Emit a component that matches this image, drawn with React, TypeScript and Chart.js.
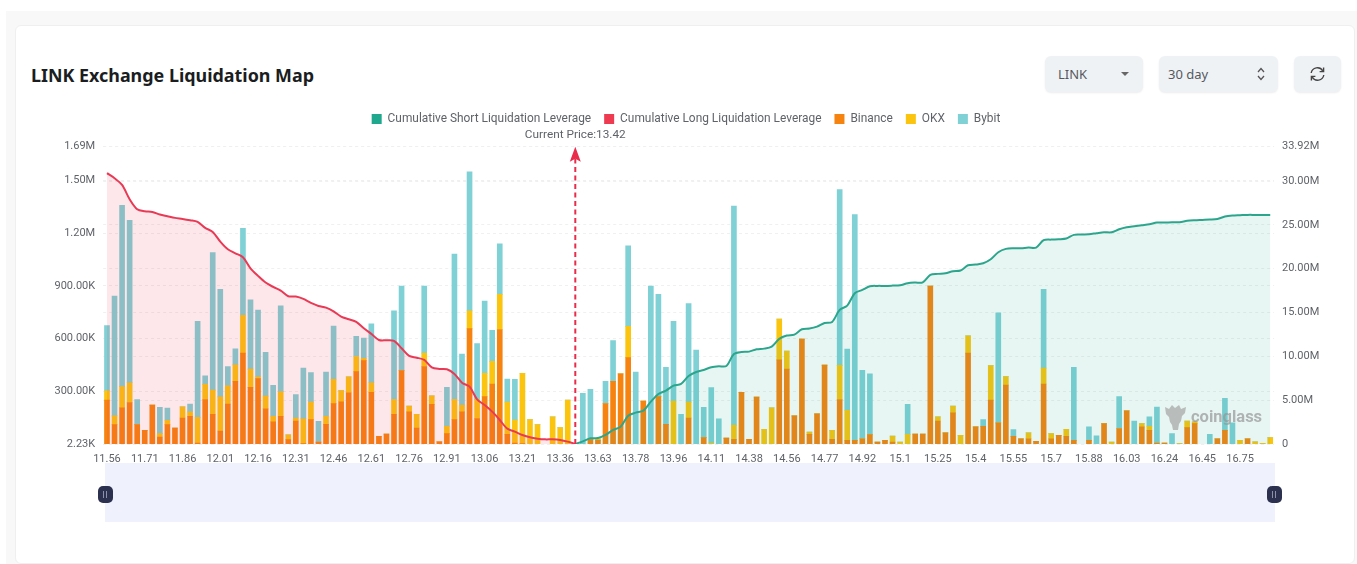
import React, { useEffect, useRef } from "react";
import { Chart, registerables } from "chart.js";

Chart.register(...registerables);

const prices = [
  "11.56","11.59","11.62","11.65","11.68","11.71","11.74","11.77","11.8","11.83",
  "11.86","11.89","11.92","11.95","11.98","12.01","12.04","12.07","12.1","12.13",
  "12.16","12.19","12.22","12.25","12.28","12.31","12.34","12.37","12.4","12.43",
  "12.46","12.49","12.52","12.55","12.58","12.61","12.64","12.67","12.7","12.73",
  "12.76","12.79","12.82","12.85","12.88","12.91","12.94","12.97","13","13.03",
  "13.06","13.09","13.12","13.15","13.18","13.21","13.24","13.27","13.3","13.33",
  "13.36","13.39","13.42","13.45","13.6","13.63","13.66","13.69","13.72","13.75",
  "13.78","13.82","13.85","13.89","13.92","13.96","13.99","14.02","14.05","14.08",
  "14.11","14.16","14.22","14.27","14.33","14.38","14.42","14.45","14.49","14.52",
  "14.56","14.6","14.64","14.69","14.73","14.77","14.8","14.83","14.86","14.89",
  "14.92","14.96","14.99","15.03","15.06","15.1","15.13","15.16","15.19","15.22",
  "15.25","15.28","15.31","15.34","15.37","15.4","15.43","15.46","15.49","15.52",
  "15.55","15.58","15.61","15.64","15.67","15.7","15.74","15.77","15.81","15.84",
  "15.88","15.91","15.94","15.97","16","16.03","16.07","16.11","16.16","16.2",
  "16.24","16.28","16.32","16.37","16.41","16.45","16.51","16.57","16.63","16.69",
  "16.75","16.78","16.81","16.84","16.87",
];

// thousands
const binanceK = [
  251,112,208,238,112,80,223,42,112,93,150,160,8,255,171,76,229,358,518,324,
  373,202,128,160,27,133,4,141,13,114,231,242,293,413,476,295,46,59,171,419,
  185,93,442,227,15,61,141,185,657,147,271,343,652,57,8,4,0,0,0,0,
  0,0,0,0,27,23,232,358,400,493,0,246,0,271,114,0,0,150,0,38,
  0,0,36,29,295,29,269,0,0,480,427,162,598,57,173,450,29,255,23,23,
  32,55,13,23,13,0,0,59,59,899,133,65,179,0,518,99,103,251,122,337,
  46,32,32,17,343,32,51,46,23,0,23,0,118,0,90,191,0,99,80,8,
  8,0,0,95,118,0,0,32,80,0,0,32,0,0,0,
];
const okxK = [
  53,50,120,112,0,0,0,19,25,0,63,25,145,86,137,194,103,93,215,103,
  11,72,32,139,27,17,141,99,0,46,139,63,90,86,13,55,0,0,84,0,
  32,78,76,48,0,42,114,38,101,109,133,128,200,183,130,400,141,112,0,156,
  95,251,0,0,0,8,0,0,0,177,0,0,0,0,0,246,0,90,0,0,
  8,0,0,80,0,0,0,86,208,232,103,0,0,13,0,0,51,194,171,0,
  0,0,0,0,34,13,57,0,0,0,23,0,38,51,99,0,0,196,0,48,
  0,0,34,0,90,29,0,40,0,0,0,0,0,13,0,0,0,19,23,0,
  0,0,4,38,10,0,0,0,0,0,23,0,15,6,38,
];
const bybitK = [
  370,680,1029,922,143,0,0,150,69,0,0,44,545,48,781,610,110,91,493,394,
  379,248,175,488,0,133,288,168,118,251,301,0,0,114,114,335,0,0,503,480,
  0,0,381,0,0,221,825,290,789,316,410,177,286,131,232,0,0,0,0,0,
  0,0,0,290,286,0,126,231,0,457,411,0,899,581,324,453,171,560,535,173,
  314,145,0,1244,0,0,0,0,0,0,0,0,0,0,0,0,0,998,347,1282,
  389,345,0,0,0,0,170,0,0,0,0,0,0,0,0,0,38,0,625,0,
  38,0,0,0,448,0,0,0,415,0,76,48,0,0,181,0,133,0,53,204,
  0,61,0,0,0,0,57,0,181,122,0,0,0,0,0,
];
// millions; null where the series does not exist
const longM = [
  30.9,30.33,29.56,27.93,26.79,26.56,26.48,26.18,25.99,25.8,25.68,25.53,25.34,24.66,24.2,23.1,22.22,21.76,21.31,20.05,
  19.18,18.42,17.92,17.5,16.86,16.82,16.55,16.1,15.75,15.56,15.14,14.54,14.23,13.93,13.2,12.56,11.87,11.83,11.76,10.92,
  10.05,9.85,9.59,8.75,8.56,8.52,7.99,7,6.54,5.1,4.45,3.69,2.74,1.75,1.41,1.03,0.76,0.61,0.53,0.53,
  0.46,0.27,0,
];
const shortM = [
  0,0.3,0.65,0.68,1.03,1.6,1.98,3.23,3.58,3.81,4.83,5.71,6.09,6.66,6.85,7.76,8.22,8.45,8.75,8.87,
  8.9,10.27,10.5,10.54,10.81,10.88,11.11,11.99,12.37,12.48,13.09,13.17,13.39,13.81,13.93,15.3,15.79,17.2,17.58,18,
  18.04,18.04,18.07,18.11,18.34,18.42,18.45,19.29,19.41,19.48,19.71,19.79,20.39,20.47,20.62,21.08,21.88,22.26,22.34,22.34,
  22.41,22.41,23.25,23.32,23.36,23.44,23.86,23.9,23.93,24.05,24.16,24.16,24.5,24.73,24.85,24.96,25.07,25.27,25.27,25.3,
  25.3,25.46,25.53,25.57,25.61,25.68,25.95,26.06,26.1,26.14,26.14,26.14,26.14,
];

const leftTicks = [2230, 300000, 600000, 900000, 1200000, 1500000, 1690000];
const leftLabels = ["2.23K", "300.00K", "600.00K", "900.00K", "1.20M", "1.50M", "1.69M"];
const rightTicks = [0, 5000000, 10000000, 15000000, 20000000, 25000000, 30000000, 33920000];
const rightLabels = ["0", "5.00M", "10.00M", "15.00M", "20.00M", "25.00M", "30.00M", "33.92M"];
const currentPrice = "13.42";

const seriesNames = [
  "Cumulative Short Liquidation Leverage",
  "Cumulative Long Liquidation Leverage",
  "Binance",
  "OKX",
  "Bybit",
];
const seriesColors = ["#1fa88d", "#ef3b52", "#f6830f", "#fbc40e", "#7fd1d6"];

const FONT = "Roboto, 'Noto Sans', sans-serif";
const TICK = "#5f6368";

const toUnits = (a: number[], f: number) => a.map((v) => v * f);

const currentPricePlugin = {
  id: "currentPrice",
  beforeLayout(chart: any) {
    const l = chart.legend;
    if (l && !l.__patched) {
      const fit = l.fit;
      l.fit = function () {
        fit.call(this);
        this.height = 46.7;
      };
      l.__patched = true;
    }
  },
  afterDatasetsDraw(chart: any) {
    const { ctx, chartArea, scales } = chart;
    const x = scales.x.getPixelForValue(prices.indexOf(currentPrice));
    const top = chartArea.top;
    const bottom = chartArea.bottom;
    ctx.save();
    ctx.strokeStyle = "#ea2c4b";
    ctx.fillStyle = "#ea2c4b";
    ctx.lineWidth = 2;
    ctx.setLineDash([5, 3.5]);
    ctx.beginPath();
    ctx.moveTo(x, bottom);
    ctx.lineTo(x, top + 12);
    ctx.stroke();
    ctx.setLineDash([]);
    ctx.beginPath();
    ctx.moveTo(x, top);
    ctx.lineTo(x + 5.5, top + 15);
    ctx.lineTo(x, top + 12);
    ctx.lineTo(x - 5.5, top + 15);
    ctx.closePath();
    ctx.fill();
    ctx.fillStyle = TICK;
    ctx.font = `11.8px ${FONT}`;
    ctx.textAlign = "center";
    ctx.textBaseline = "middle";
    ctx.fillText(`Current Price:${currentPrice}`, x, 135);
    ctx.restore();
  },
};

const box: React.CSSProperties = {
  position: "absolute",
  top: 56,
  height: 36,
  background: "#eff2f5",
  borderRadius: 6,
  boxShadow: "0 1px 2px rgba(0,0,0,.08)",
  color: "#55595f",
  fontFamily: "'Noto Sans', sans-serif",
  fontSize: 13,
  lineHeight: "36px",
};

function Handle({ left }: { left: number }) {
  return (
    <div
      style={{
        position: "absolute",
        left,
        top: 486,
        width: 15,
        height: 17,
        borderRadius: 5,
        background: "#2c3150",
      }}
    >
      <div style={{ position: "absolute", left: 5, top: 5, width: 1, height: 7, background: "#8d91a6" }} />
      <div style={{ position: "absolute", left: 8, top: 5, width: 1, height: 7, background: "#8d91a6" }} />
    </div>
  );
}

export default function App() {
  const ref = useRef<HTMLCanvasElement>(null);
  useEffect(() => {
    const chart = new Chart(ref.current as HTMLCanvasElement, {
      type: "bar",
      plugins: [currentPricePlugin],
      data: {
        labels: prices,
        datasets: [
          {
            type: "line",
            label: seriesNames[0],
            data: [...Array(longM.length - 1).fill(null), ...toUnits(shortM, 1e6)],
            yAxisID: "yRight",
            borderColor: "#2ba68c",
            backgroundColor: "rgba(31,168,141,0.1)",
            borderWidth: 2,
            pointRadius: 0,
            tension: 0.3,
            fill: "origin",
            order: 1,
          },
          {
            type: "line",
            label: seriesNames[1],
            data: toUnits(longM, 1e6),
            yAxisID: "yRight",
            borderColor: "#e93a55",
            backgroundColor: "rgba(239,59,82,0.12)",
            borderWidth: 2,
            pointRadius: 0,
            tension: 0.3,
            fill: "origin",
            order: 1,
          },
          {
            label: seriesNames[2],
            data: toUnits(binanceK, 1e3),
            yAxisID: "y",
            backgroundColor: seriesColors[2],
            stack: "ex",
            barThickness: 5,
            order: 2,
          },
          {
            label: seriesNames[3],
            data: toUnits(okxK, 1e3),
            yAxisID: "y",
            backgroundColor: seriesColors[3],
            stack: "ex",
            barThickness: 5,
            order: 2,
          },
          {
            label: seriesNames[4],
            data: toUnits(bybitK, 1e3),
            yAxisID: "y",
            backgroundColor: seriesColors[4],
            stack: "ex",
            barThickness: 5,
            order: 2,
          },
        ],
      } as any,
      options: {
        responsive: false,
        animation: false,
        layout: { padding: { left: 15, right: 0, top: 100, bottom: 100 } },
        plugins: {
          tooltip: { enabled: false },
          legend: {
            position: "top",
            align: "center",
            labels: {
              boxWidth: 10,
              boxHeight: 10,
              padding: 13,
              color: TICK,
              font: { family: FONT, size: 11.9 },
              generateLabels: (c: any) =>
                c.data.datasets.map((d: any, i: number) => ({
                  text: d.label,
                  fillStyle: seriesColors[i],
                  strokeStyle: seriesColors[i],
                  lineWidth: 0,
                  datasetIndex: i,
                  fontColor: TICK,
                })),
            },
          },
        },
        scales: {
          x: {
            stacked: true,
            offset: true,
            grid: { display: false },
            border: { display: false },
            afterFit: (s: any) => {
              s.height = 20;
            },
            ticks: {
              autoSkip: false,
              maxRotation: 0,
              minRotation: 0,
              padding: 1,
              color: TICK,
              font: { family: FONT, size: 11 },
              callback: (_v: any, i: number) => (i % 5 === 0 ? prices[i] : ""),
            },
          },
          y: {
            type: "linear",
            position: "left",
            stacked: true,
            min: leftTicks[0],
            max: leftTicks[leftTicks.length - 1],
            border: { display: false, dash: [3, 3] },
            grid: { color: "#f0f0f0", drawTicks: false },
            afterFit: (s: any) => {
              s.width = 88.2;
            },
            afterBuildTicks: (s: any) => {
              s.ticks = leftTicks.map((value) => ({ value }));
            },
            ticks: {
              padding: 8,
              color: TICK,
              font: { family: FONT, size: 11 },
              callback: (v: any) => leftLabels[leftTicks.indexOf(v)],
            },
          },
          yRight: {
            type: "linear",
            position: "right",
            min: rightTicks[0],
            max: rightTicks[rightTicks.length - 1],
            border: { display: false, dash: [3, 3] },
            grid: { color: "#f0f0f0", drawTicks: false },
            afterFit: (s: any) => {
              s.width = 83;
            },
            afterBuildTicks: (s: any) => {
              s.ticks = rightTicks.map((value) => ({ value }));
            },
            ticks: {
              padding: 8,
              color: TICK,
              font: { family: FONT, size: 11 },
              callback: (v: any) => rightLabels[rightTicks.indexOf(v)],
            },
          },
        },
      } as any,
    });
    return () => chart.destroy();
  }, []);

  return (
    <div style={{ position: "absolute", left: 0, top: 0, width: 1357, height: 564, overflow: "hidden", background: "#fff" }}>
      <div style={{ position: "absolute", left: 6, top: 11, width: 1351, height: 553, background: "#f8f8f8" }} />
      <div
        style={{
          position: "absolute",
          left: 15,
          top: 25,
          width: 1340,
          height: 539,
          background: "#fff",
          borderRadius: 6,
          border: "1px solid #efefef",
          boxSizing: "border-box",
        }}
      />
      <div
        style={{
          position: "absolute",
          left: 31,
          top: 62,
          fontFamily: "'Noto Sans', sans-serif",
          fontWeight: 700,
          fontSize: 17.9,
          lineHeight: "26px",
          color: "#1a1d21",
          whiteSpace: "nowrap",
        }}
      >
        LINK Exchange Liquidation Map
      </div>

      <div style={{ ...box, left: 1045, width: 98 }}>
        <span style={{ position: "absolute", left: 13 }}>LINK</span>
        <span
          style={{
            position: "absolute",
            left: 76,
            top: 16,
            width: 0,
            height: 0,
            borderLeft: "4px solid transparent",
            borderRight: "4px solid transparent",
            borderTop: "4px solid #666",
          }}
        />
      </div>
      <div style={{ ...box, left: 1159, width: 119 }}>
        <span style={{ position: "absolute", left: 9 }}>30 day</span>
        <svg style={{ position: "absolute", left: 97, top: 10 }} width="10" height="16" viewBox="0 0 10 16">
          <path d="M2 6 L5 2.5 L8 6 M2 10 L5 13.5 L8 10" fill="none" stroke="#555" strokeWidth="1.3" />
        </svg>
      </div>
      <div style={{ ...box, left: 1294, width: 47 }}>
        <svg style={{ position: "absolute", left: 15, top: 10 }} width="17" height="16" viewBox="0 0 17 16">
          <path d="M2.2 7 A6.3 6.3 0 0 1 13.8 4.8 M14.8 9 A6.3 6.3 0 0 1 3.2 11.2" fill="none" stroke="#444" strokeWidth="1.4" />
          <path d="M14.6 1.5 V5.6 H10.6 M2.4 14.5 V10.4 H6.4" fill="none" stroke="#444" strokeWidth="1.4" />
        </svg>
      </div>

      <div style={{ position: "absolute", left: 105, top: 463, width: 1170, height: 59, background: "#eff2fd" }} />
      <Handle left={98} />
      <Handle left={1267} />

      <canvas ref={ref} width={1357} height={564} style={{ position: "absolute", left: 0, top: 0, display: "block" }} />

      <svg style={{ position: "absolute", left: 1163, top: 404, opacity: 0.75 }} width="24" height="27" viewBox="0 0 24 27">
        <path
          d="M2 3 L6 5 L9 1 L12 4 L16 1 L18 5 L23 3 L22 9 L19 12 L18 17 L16 20 L15 26 L10 26 L9 21 L7 18 L6 13 L3 10 Z"
          fill="#a9a9a9"
        />
      </svg>
      <div
        style={{
          position: "absolute",
          left: 1191,
          top: 407,
          fontFamily: "Roboto, sans-serif",
          fontWeight: 700,
          fontSize: 16.5,
          lineHeight: "20px",
          color: "rgba(150,150,150,0.7)",
          whiteSpace: "nowrap",
        }}
      >
        coinglass
      </div>
    </div>
  );
}
